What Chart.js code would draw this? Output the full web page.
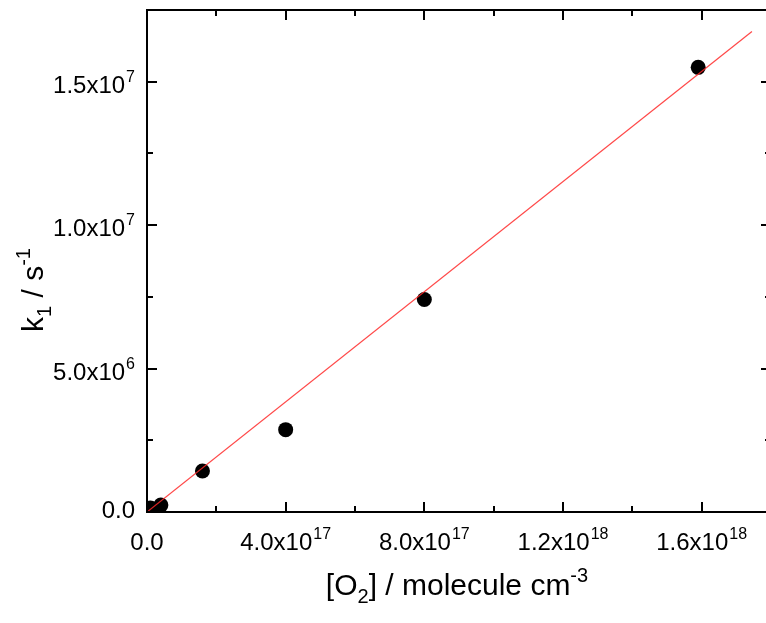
<!DOCTYPE html>
<html>
<head>
<meta charset="utf-8">
<script src="https://cdn.jsdelivr.net/npm/chart.js@4.4.1/dist/chart.umd.min.js"></script>
<style>
  html, body { margin: 0; padding: 0; background: #fff; overflow: hidden; }
  #wrap { width: 766px; height: 623px; overflow: hidden; }
</style>
</head>
<body>
<div id="wrap"><canvas id="c" width="790" height="623"></canvas></div>
<script>
// k1 vs [O2]
const o2Conc = [1.0e16, 4.0e16, 1.6e17, 4.0e17, 8.0e17, 1.59e18];
const k1Values = [1.4e5, 2.4e5, 1.43e6, 2.87e6, 7.41e6, 1.55e7];

// linear fit (through origin)
const fitX = [0, 1.745e18];
const fitY = [0, 1.675e7];

const xTicks = [0, 4e17, 8e17, 1.2e18, 1.6e18];
const xTickLabels = ['0.0', '4.0x10^17', '8.0x10^17', '1.2x10^18', '1.6x10^18'];
const xMinorTicks = [2e17, 6e17, 1.0e18, 1.4e18];
const yTicks = [0, 5e6, 1e7, 1.5e7];
const yTickLabels = ['0.0', '5.0x10^6', '1.0x10^7', '1.5x10^7'];
const yMinorTicks = [2.5e6, 7.5e6, 1.25e7];

const FONT = '"Liberation Sans", Arial, sans-serif';
const TICK_PX = 24, SUP_PX = 16, TITLE_PX = 30, TITLE_SUB_PX = 20;

// draws "a^b" with the exponent raised; y is the baseline of the main text
function drawSci(ctx, s, x, y, align) {
  const [m, e] = s.split('^');
  ctx.font = `${TICK_PX}px ${FONT}`;
  const wm = ctx.measureText(m).width;
  ctx.font = `${SUP_PX}px ${FONT}`;
  const we = e ? ctx.measureText(e).width + 1 : 0;
  const total = wm + we;
  let sx = x;
  if (align === 'center') sx = x - total / 2;
  else if (align === 'right') sx = x - total;
  ctx.font = `${TICK_PX}px ${FONT}`;
  ctx.fillText(m, sx, y);
  if (e) {
    ctx.font = `${SUP_PX}px ${FONT}`;
    ctx.fillText(e, sx + wm + 1, y - 11);
  }
}

// parts: [text, shift] where shift 0 = normal, 1 = sup, -1 = sub
function drawRich(ctx, parts, cx, y) {
  const fontOf = p => `${p[1] ? TITLE_SUB_PX : TITLE_PX}px ${FONT}`;
  let total = 0;
  for (const p of parts) { ctx.font = fontOf(p); total += ctx.measureText(p[0]).width; }
  let x = cx - total / 2;
  for (const p of parts) {
    ctx.font = fontOf(p);
    const dy = p[1] === 1 ? -13 : p[1] === -1 ? 8 : 0;
    ctx.fillText(p[0], x, y + dy);
    x += ctx.measureText(p[0]).width;
  }
}

const frame = {
  id: 'frame',
  afterDatasetsDraw(chart) {
    const { ctx, chartArea: a, scales: { x, y } } = chart;
    ctx.save();
    ctx.strokeStyle = '#000';
    ctx.lineWidth = 2;
    ctx.strokeRect(a.left, a.top, a.right - a.left, a.bottom - a.top);
    ctx.beginPath();
    const xt = (v, len) => {
      const px = Math.round(x.getPixelForValue(v));
      ctx.moveTo(px, a.bottom); ctx.lineTo(px, a.bottom - len);
      ctx.moveTo(px, a.top); ctx.lineTo(px, a.top + len);
    };
    const yt = (v, len) => {
      const py = Math.round(y.getPixelForValue(v));
      ctx.moveTo(a.left, py); ctx.lineTo(a.left + len, py);
      ctx.moveTo(a.right, py); ctx.lineTo(a.right - len, py);
    };
    xTicks.forEach(v => xt(v, 10));
    xMinorTicks.forEach(v => xt(v, 6));
    yTicks.forEach(v => yt(v, 10));
    yMinorTicks.forEach(v => yt(v, 6));
    ctx.stroke();
    ctx.restore();
  },
  afterDraw(chart) {
    const { ctx, chartArea: a, scales: { x, y } } = chart;
    ctx.save();
    ctx.fillStyle = '#000';
    ctx.textBaseline = 'alphabetic';
    ctx.textAlign = 'left';
    xTicks.forEach((v, i) => drawSci(ctx, xTickLabels[i], x.getPixelForValue(v), a.bottom + 38, 'center'));
    yTicks.forEach((v, i) => {
      const py = y.getPixelForValue(v);
      drawSci(ctx, yTickLabels[i], a.left - 12, Math.min(py + 11, a.bottom + 6), 'right');
    });
    // axis titles
    drawRich(ctx, [['[O', 0], ['2', -1], ['] / molecule cm', 0], ['-3', 1]], (a.left + a.right) / 2 - 2, 595);
    ctx.translate(43, 290);
    ctx.rotate(-Math.PI / 2);
    drawRich(ctx, [['k', 0], ['1', -1], [' / s', 0], ['-1', 1]], 0, 0);
    ctx.restore();
  }
};

new Chart(document.getElementById('c'), {
  type: 'scatter',
  data: {
    datasets: [
      {
        label: 'fit',
        data: fitX.map((v, i) => ({ x: v, y: fitY[i] })),
        showLine: true,
        borderColor: 'rgba(255, 40, 40, 0.85)',
        borderWidth: 1.2,
        pointRadius: 0,
        clip: 0,
      },
      {
        label: 'k1',
        data: o2Conc.map((v, i) => ({ x: v, y: k1Values[i] })),
        backgroundColor: '#000',
        borderWidth: 0,
        pointRadius: 7.5,
        clip: 0,
      },
    ]
  },
  options: {
    responsive: false,
    animation: false,
    devicePixelRatio: 1,
    layout: { padding: { left: 147, top: 10, right: 19, bottom: 111 } },
    plugins: { legend: { display: false }, tooltip: { enabled: false } },
    scales: {
      x: { type: 'linear', min: 0, max: 1.8e18, display: false },
      y: { type: 'linear', min: 0, max: 1.75e7, display: false }
    }
  },
  plugins: [frame]
});
</script>
</body>
</html>
